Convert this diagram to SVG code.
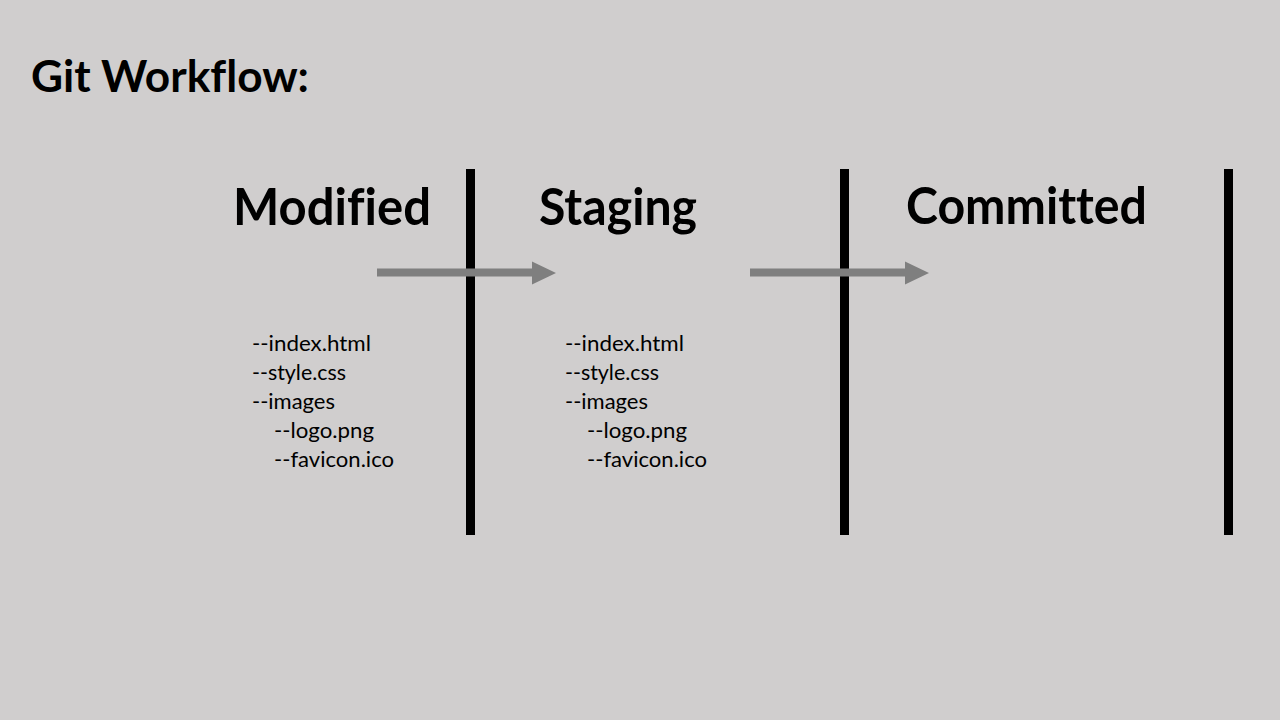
<svg xmlns="http://www.w3.org/2000/svg" width="1280" height="720" viewBox="0 0 1280 720">
<defs>
<style>
.bg{fill:#D0CECE}
text{font-variant-ligatures:none;font-feature-settings:"liga" 0,"clig" 0}
.title{font-family:Lato,"Open Sans","Liberation Sans",sans-serif;font-weight:bold;font-size:43px;fill:#000}
.head{font-family:Lato,"Open Sans","Liberation Sans",sans-serif;font-weight:bold;font-size:51px;fill:#000}
.file{font-family:Lato,"Open Sans","Liberation Sans",sans-serif;font-size:21px;fill:#000}
.bar{fill:#000}
.arrow{fill:#7F7F7F}
</style>
</defs>
<rect class="bg" x="0" y="0" width="1280" height="720"/>
<text class="title" x="31" y="92" textLength="278" lengthAdjust="spacingAndGlyphs">Git Workflow:</text>

<g id="bars">
<rect class="bar" x="466" y="169" width="9" height="366"/>
<rect class="bar" x="840" y="169" width="9" height="366"/>
<rect class="bar" x="1224" y="169" width="9" height="366"/>
</g>

<g id="modified">
<text class="head" x="233" y="225" textLength="198" lengthAdjust="spacingAndGlyphs">Modified</text>
<text class="file" x="252" y="351" textLength="119" lengthAdjust="spacingAndGlyphs">--index.html</text>
<text class="file" x="252" y="380" textLength="94" lengthAdjust="spacingAndGlyphs">--style.css</text>
<text class="file" x="252" y="409" textLength="83" lengthAdjust="spacingAndGlyphs">--images</text>
<text class="file" x="274" y="438" textLength="100" lengthAdjust="spacingAndGlyphs">--logo.png</text>
<text class="file" x="274" y="467" textLength="120" lengthAdjust="spacingAndGlyphs">--favicon.ico</text>
</g>

<g id="staging">
<text class="head" x="539" y="225" textLength="158" lengthAdjust="spacingAndGlyphs">Staging</text>
<text class="file" x="565" y="351" textLength="119" lengthAdjust="spacingAndGlyphs">--index.html</text>
<text class="file" x="565" y="380" textLength="94" lengthAdjust="spacingAndGlyphs">--style.css</text>
<text class="file" x="565" y="409" textLength="83" lengthAdjust="spacingAndGlyphs">--images</text>
<text class="file" x="587" y="438" textLength="100" lengthAdjust="spacingAndGlyphs">--logo.png</text>
<text class="file" x="587" y="467" textLength="120" lengthAdjust="spacingAndGlyphs">--favicon.ico</text>
</g>

<g id="committed">
<text class="head" x="906" y="224" textLength="241" lengthAdjust="spacingAndGlyphs">Committed</text>
</g>

<g id="connectors">
<path class="arrow" d="M377,268.5 H532 V261.5 L556,273 L532,284.5 V276.5 H377 Z"/>
<path class="arrow" d="M750,268.5 H905 V261.5 L929,273 L905,284.5 V276.5 H750 Z"/>
</g>
</svg>
